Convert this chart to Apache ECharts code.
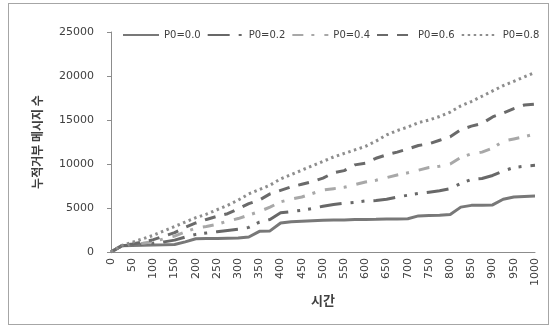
<!DOCTYPE html>
<html lang="ko">
<head>
  <meta charset="UTF-8">
  <title>누적 거부 메시지 수</title>
  <script src="https://cdn.jsdelivr.net/npm/echarts@6/dist/echarts.min.js"></script>
  <style>
    html, body { margin: 0; padding: 0; background: #fff; }
    #chart { position: absolute; left: 0; top: 0; width: 554px; height: 328px; }
    #frame {
      position: absolute; left: 8px; top: 3px; width: 539px; height: 320px;
      border: 1px solid #a6a6a6; pointer-events: none;
    }
  </style>
</head>
<body>
<div id="chart"></div>
<div id="frame"></div>

<script>
  // 시간 (x값)
  const times = [0, 25, 50, 75, 100, 125, 150, 175, 200, 225, 250, 275, 300, 325, 350, 375,
    400, 425, 450, 475, 500, 525, 550, 575, 600, 625, 650, 675, 700, 725, 750, 775,
    800, 825, 850, 875, 900, 925, 950, 975, 1000];

  const p00 = [0, 700, 750, 780, 800, 820, 850, 1150, 1500, 1520, 1540, 1560, 1580, 1700, 2350, 2400,
    3300, 3450, 3500, 3550, 3600, 3650, 3650, 3680, 3700, 3720, 3750, 3750, 3780, 4100, 4150, 4180,
    4250, 5100, 5300, 5300, 5350, 6000, 6250, 6300, 6350];

  const p02 = [0, 700, 800, 900, 1000, 1150, 1350, 1700, 2000, 2150, 2300, 2450, 2600, 2800, 3400, 3700,
    4450, 4600, 4750, 4950, 5200, 5400, 5550, 5650, 5800, 5850, 6000, 6250, 6450, 6650, 6800, 6950,
    7200, 7800, 8250, 8350, 8700, 9200, 9600, 9750, 9850];

  const p04 = [0, 700, 850, 1000, 1200, 1500, 1800, 2300, 2700, 2900, 3150, 3500, 3800, 4200, 4600, 5100,
    5700, 6000, 6250, 6650, 7050, 7200, 7350, 7650, 7950, 8150, 8450, 8750, 9000, 9300, 9600, 9750,
    10000, 10750, 11150, 11350, 11800, 12600, 12850, 13100, 13400];

  const p06 = [0, 700, 900, 1150, 1400, 1800, 2200, 2800, 3300, 3700, 4050, 4350, 4900, 5500, 5900, 6600,
    7000, 7400, 7700, 8000, 8400, 9000, 9250, 9900, 10100, 10650, 11050, 11350, 11700, 12100, 12300, 12700,
    13100, 13900, 14300, 14600, 15350, 15800, 16300, 16700, 16800];

  const p08 = [0, 750, 1100, 1500, 1900, 2400, 2900, 3400, 3900, 4300, 4800, 5300, 5900, 6600, 7100, 7600,
    8300, 8800, 9300, 9800, 10300, 10800, 11200, 11600, 12000, 12600, 13300, 13800, 14200, 14700, 15000, 15400,
    15900, 16600, 17100, 17700, 18300, 18900, 19400, 19900, 20400];

  const seriesNames = ['P0=0.0', 'P0=0.2', 'P0=0.4', 'P0=0.6', 'P0=0.8'];

  function pairs(vals) {
    return times.map((t, i) => [t, vals[i]]);
  }

  const chart = echarts.init(document.getElementById('chart'));

  function lineSeries(name, vals, color, type) {
    return {
      name: name,
      type: 'line',
      symbol: 'none',
      data: pairs(vals),
      lineStyle: { color: color, width: 3, type: type, cap: 'butt' },
      itemStyle: { color: color }
    };
  }

  const plain = v => String(v);

  chart.setOption({
    animation: false,
    textStyle: { fontFamily: 'DejaVu Sans' },
    legend: {
      top: 25,
      left: 117,
      width: 436,
      itemWidth: 36,
      itemHeight: 10,
      itemGap: 6,
      itemStyle: { opacity: 0 },
      textStyle: { fontSize: 10, color: '#404040', fontFamily: 'DejaVu Sans' },
      data: seriesNames
    },
    grid: { left: 111, right: 19, top: 32, bottom: 76 },
    xAxis: {
      type: 'value',
      min: 0,
      max: 1000,
      interval: 50,
      name: '시간',
      nameLocation: 'middle',
      nameGap: 41,
      nameTextStyle: { fontFamily: 'Noto Sans CJK KR', fontWeight: 'bold', fontSize: 13, color: '#404040' },
      axisLine: { lineStyle: { color: '#8c8c8c', width: 1 } },
      axisTick: { show: false },
      splitLine: { show: false },
      axisLabel: { rotate: 90, fontSize: 11, color: '#404040', margin: 6, formatter: plain }
    },
    yAxis: {
      type: 'value',
      min: 0,
      max: 25000,
      interval: 5000,
      name: '누적거부 메시지 수',
      nameLocation: 'middle',
      nameGap: 68,
      nameTextStyle: { fontFamily: 'Noto Sans CJK KR', fontWeight: 'bold', fontSize: 12, color: '#404040' },
      axisLine: { show: true, lineStyle: { color: '#8c8c8c', width: 1 } },
      axisTick: { show: true, length: 4, lineStyle: { color: '#8c8c8c' } },
      splitLine: { show: false },
      axisLabel: { fontSize: 11, color: '#404040', margin: 17, formatter: plain }
    },
    series: [
      lineSeries(seriesNames[0], p00, '#787878', 'solid'),
      lineSeries(seriesNames[1], p02, '#686868', [22, 9, 3, 8, 3, 9]),
      lineSeries(seriesNames[2], p04, '#a8a8a8', [11, 8, 3, 10]),
      lineSeries(seriesNames[3], p06, '#6a6a6a', [11, 9]),
      lineSeries(seriesNames[4], p08, '#8e8e8e', [2.5, 3.5])
    ]
  });
</script>
</body>
</html>
